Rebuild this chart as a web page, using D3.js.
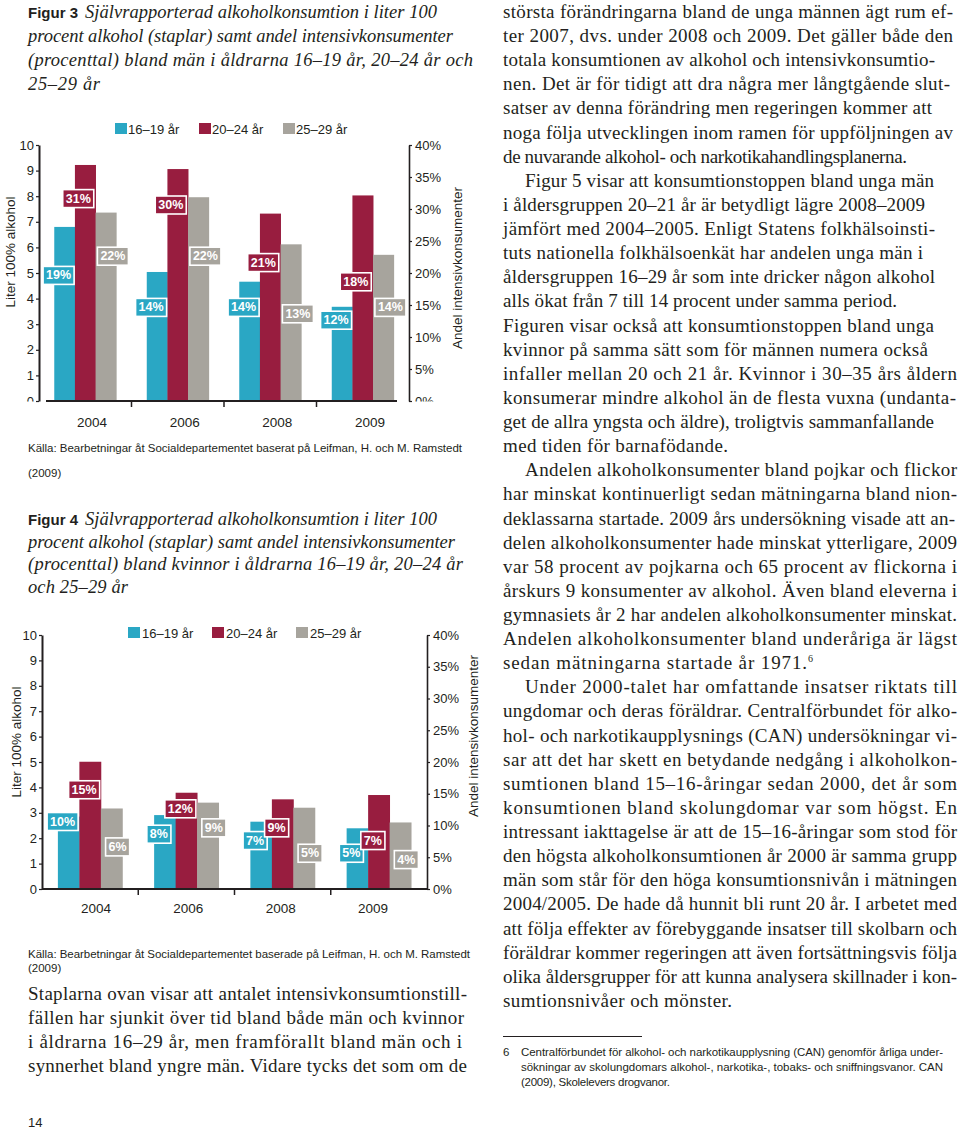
<!DOCTYPE html>
<html><head><meta charset="utf-8">
<script src="https://cdn.jsdelivr.net/npm/d3@7"></script>
<style>
html,body{margin:0;padding:0;background:#fff;}
svg{display:block;}
</style></head><body>
<svg id="page" width="960" height="1131"></svg>
<script>
// ---------------- DATA ----------------
const years = ["2004", "2006", "2008", "2009"];
const seriesNames = ["16–19 år", "20–24 år", "25–29 år"];
const seriesColors = ["#2aa7c4", "#981d3f", "#a7a49d"];
const literTicks = [0,1,2,3,4,5,6,7,8,9,10];
const pctTicks = [0,0.05,0.10,0.15,0.20,0.25,0.30,0.35,0.40];

// Figur 3 – män (liter 100% alkohol)
const menLiters1619 = [6.80, 5.04, 4.66, 3.68];
const menLiters2024 = [9.22, 9.06, 7.32, 8.03];
const menLiters2529 = [7.36, 7.96, 6.12, 5.71];
// Figur 3 – andel intensivkonsumenter (%)
const menPct1619 = [19, 14, 14, 12];
const menPct2024 = [31, 30, 21, 18];
const menPct2529 = [22, 22, 13, 14];

// Figur 4 – kvinnor
const womenLiters1619 = [2.85, 2.91, 2.65, 2.39];
const womenLiters2024 = [5.01, 3.79, 3.53, 3.70];
const womenLiters2529 = [3.17, 3.40, 3.20, 2.62];
const womenPct1619 = [10, 8, 7, 5];
const womenPct2024 = [15, 12, 9, 7];
const womenPct2529 = [6, 9, 5, 4];

// ---------------- TEXT ----------------
const fig3Caption = ["Självrapporterad alkoholkonsumtion i liter 100",
  "procent alkohol (staplar) samt andel intensivkonsumenter",
  "(procenttal) bland män i åldrarna 16–19 år, 20–24 år och",
  "25–29 år"];
const fig4Caption = ["Självrapporterad alkoholkonsumtion i liter 100",
  "procent alkohol (staplar) samt andel intensivkonsumenter",
  "(procenttal) bland kvinnor i åldrarna 16–19 år, 20–24 år",
  "och 25–29 år"];
const source3 = ["Källa: Bearbetningar åt Socialdepartementet baserat på Leifman, H. och M. Ramstedt", "(2009)"];
const source4 = ["Källa: Bearbetningar åt Socialdepartementet baserade på Leifman, H. och M. Ramstedt", "(2009)"];
const leftBody = ["Staplarna ovan visar att antalet intensivkonsumtionstill-",
  "fällen har sjunkit över tid bland både män och kvinnor",
  "i åldrarna 16–29 år, men framförallt bland män och i",
  "synnerhet bland yngre män. Vidare tycks det som om de"];
const rightBody = [
  "största förändringarna bland de unga männen ägt rum ef-",
  "ter 2007, dvs. under 2008 och 2009. Det gäller både den",
  "totala konsumtionen av alkohol och intensivkonsumtio-",
  "nen. Det är för tidigt att dra några mer långtgående slut-",
  "satser av denna förändring men regeringen kommer att",
  "noga följa utvecklingen inom ramen för uppföljningen av",
  "de nuvarande alkohol- och narkotikahandlingsplanerna.",
  "Figur 5 visar att konsumtionstoppen bland unga män",
  "i åldersgruppen 20–21 år är betydligt lägre 2008–2009",
  "jämfört med 2004–2005. Enligt Statens folkhälsoinsti-",
  "tuts nationella folkhälsoenkät har andelen unga män i",
  "åldersgruppen 16–29 år som inte dricker någon alkohol",
  "alls ökat från 7 till 14 procent under samma period.",
  "Figuren visar också att konsumtionstoppen bland unga",
  "kvinnor på samma sätt som för männen numera också",
  "infaller mellan 20 och 21 år. Kvinnor i 30–35 års åldern",
  "konsumerar mindre alkohol än de flesta vuxna (undanta-",
  "get de allra yngsta och äldre), troligtvis sammanfallande",
  "med tiden för barnafödande.",
  "Andelen alkoholkonsumenter bland pojkar och flickor",
  "har minskat kontinuerligt sedan mätningarna bland nion-",
  "deklassarna startade. 2009 års undersökning visade att an-",
  "delen alkoholkonsumenter hade minskat ytterligare, 2009",
  "var 58 procent av pojkarna och 65 procent av flickorna i",
  "årskurs 9 konsumenter av alkohol. Även bland eleverna i",
  "gymnasiets år 2 har andelen alkoholkonsumenter minskat.",
  "Andelen alkoholkonsumenter bland underåriga är lägst",
  "sedan mätningarna startade år 1971.",
  "Under 2000-talet har omfattande insatser riktats till",
  "ungdomar och deras föräldrar. Centralförbundet för alko-",
  "hol- och narkotikaupplysnings (CAN) undersökningar vi-",
  "sar att det har skett en betydande nedgång i alkoholkon-",
  "sumtionen bland 15–16-åringar sedan 2000, det år som",
  "konsumtionen bland skolungdomar var som högst. En",
  "intressant iakttagelse är att de 15–16-åringar som stod för",
  "den högsta alkoholkonsumtionen år 2000 är samma grupp",
  "män som står för den höga konsumtionsnivån i mätningen",
  "2004/2005. De hade då hunnit bli runt 20 år. I arbetet med",
  "att följa effekter av förebyggande insatser till skolbarn och",
  "föräldrar kommer regeringen att även fortsättningsvis följa",
  "olika åldersgrupper för att kunna analysera skillnader i kon-",
  "sumtionsnivåer och mönster."];
const footnote = ["Centralförbundet för alkohol- och narkotikaupplysning (CAN) genomför årliga under-",
  "sökningar av skolungdomars alkohol-, narkotika-, tobaks- och sniffningsvanor. CAN",
  "(2009), Skolelevers drogvanor."];

// ---------------- LAYOUT ----------------
const svg = d3.select("#page");
svg.append("rect").attr("width", 960).attr("height", 1131).attr("fill", "#fff");
const SERIF = "'Liberation Serif', 'Times New Roman', serif";
const SANS = "'Liberation Sans', Arial, sans-serif";
const INK = "#231f20";

const rightEnds = [953,953,935,950,932,953,907,934,925,935,923,935,897,934,928,957,956,934,728,
  957,957,955,957,957,957,957,957,813,957,957,957,957,957,957,957,957,957,957,957,957,957,732];
const indented = new Set([7, 19, 28]);
const leftEnds = [467, 464, 462, 467];

function fitText(sel, x, y, str, end, size, family, style) {
  const t = sel.append("text").attr("x", x).attr("y", y)
    .attr("font-family", family).attr("font-size", size).attr("fill", INK)
    .text(str);
  if (style) t.attr("font-style", style);
  if (end) t.attr("textLength", end - x).attr("lengthAdjust", "spacing");
  return t;
}

// Captions
function caption(top, num, lines, ends, step) {
  const g = svg.append("g");
  g.append("text").attr("x", 28).attr("y", top).attr("font-family", SANS)
    .attr("font-weight", "bold").attr("font-size", 15.5).attr("fill", INK)
    .attr("textLength", 50).attr("lengthAdjust", "spacingAndGlyphs").text("Figur " + num);
  lines.forEach((l, i) => {
    const x = i === 0 ? 85 : 28;
    fitText(g, x, top + i * step, l, ends[i], 18.5, SERIF, "italic");
  });
}
caption(17.5, 3, fig3Caption, [437, 453, 473, 100], 24.2);
caption(525, 4, fig4Caption, [437, 455, 463, 128], 22.6);

// Right column body
const rb = svg.append("g");
rightBody.forEach((l, i) => {
  const x = indented.has(i) ? 525 : 503;
  const y = 18 + i * 24.12;
  const t = fitText(rb, x, y, l, null, 19, SERIF);
  if (i === 27) {
    t.append("tspan").attr("font-size", 10).attr("dy", -7).text("6");
  }
  t.attr("textLength", rightEnds[i] - x).attr("lengthAdjust", "spacing");
});
// Left column body
leftBody.forEach((l, i) => fitText(svg, 28, 1000 + i * 24, l, leftEnds[i], 19, SERIF));

// Page number
svg.append("text").attr("x", 28).attr("y", 1127).attr("font-family", SANS).attr("font-size", 13)
  .attr("fill", INK).text("14");

// Footnote
svg.append("line").attr("x1", 503).attr("x2", 642).attr("y1", 1036.5).attr("y2", 1036.5)
  .attr("stroke", INK).attr("stroke-width", 1);
svg.append("text").attr("x", 503).attr("y", 1056).attr("font-family", SANS).attr("font-size", 11.5)
  .attr("fill", INK).text("6");
const fnEnds = [943, 943, 670];
footnote.forEach((l, i) => fitText(svg, 521, 1056 + i * 15, l, fnEnds[i], 11.5, SANS));

// Sources
function source(lines, y0, step, end) {
  fitText(svg, 28, y0, lines[0], end, 11.5, SANS);
  fitText(svg, 28, y0 + step, lines[1], null, 11.5, SANS);
}
source(source3, 452, 25, 462);
source(source4, 958, 14, 470);

// clip that keeps only the part above a tick's centre (used for the cut-off zero labels)
svg.append("clipPath").attr("id", "zeroClip").append("rect")
  .attr("x", -200).attr("y", -2000).attr("width", 400).attr("height", 2000);

// ---------------- CHARTS ----------------
function drawChart(c) {
  const g = svg.append("g");
  const y = d3.scaleLinear().domain([0, 10]).range([c.bottom, c.top]);
  const yR = d3.scaleLinear().domain([0, 0.40]).range([c.bottom, c.top]);
  const x0 = d3.scaleBand().domain(years).range([c.left, c.right]).paddingInner(0.33).paddingOuter(0.165);
  const x1 = d3.scaleBand().domain(seriesNames).range([0, x0.bandwidth()]);
  const color = d3.scaleOrdinal().domain(seriesNames).range(seriesColors);

  const rows = [];
  years.forEach((yr, i) => seriesNames.forEach((s, j) => rows.push({
    year: yr, series: s, j, liters: c.liters[j][i], pct: c.pct[j][i] / 100
  })));

  // bars
  g.append("g").selectAll("rect").data(rows).join("rect")
    .attr("x", d => x0(d.year) + x1(d.series))
    .attr("width", x1.bandwidth() + 0.4)
    .attr("y", d => y(d.liters))
    .attr("height", d => y(0) - y(d.liters))
    .attr("fill", d => color(d.series));

  // left axis
  const la = g.append("g").attr("transform", `translate(${c.left},0)`)
    .call(d3.axisLeft(y).tickValues(literTicks).tickSize(3).tickPadding(2).tickSizeOuter(0));
  la.select(".domain").attr("stroke", INK).attr("stroke-width", 2);
  la.selectAll(".tick line").attr("stroke", INK).attr("stroke-width", 1.2);
  la.selectAll(".tick text").attr("font-family", SANS).attr("font-size", 13).attr("fill", INK);

  // right axis
  const ra = g.append("g").attr("transform", `translate(${c.right},0)`)
    .call(d3.axisRight(yR).tickValues(pctTicks).tickFormat(d3.format(".0%")).tickSize(3).tickPadding(3).tickSizeOuter(0));
  ra.select(".domain").attr("stroke", INK).attr("stroke-width", 1.6);
  ra.selectAll(".tick line").attr("stroke", INK).attr("stroke-width", 1.2);
  ra.selectAll(".tick text").attr("font-family", SANS).attr("font-size", 13).attr("fill", INK);

  if (c.clipZero) {
    [la, ra].forEach(a => a.selectAll(".tick").filter(d => d === 0).select("text")
      .attr("clip-path", "url(#zeroClip)"));
  }

  // x axis line
  g.append("line").attr("x1", c.xAxisStart).attr("x2", c.xAxisEnd)
    .attr("y1", c.bottom).attr("y2", c.bottom).attr("stroke", INK).attr("stroke-width", 2);
  const pad = x0.step() * 0.165;
  g.append("g").selectAll("line").data(years.slice(1)).join("line")
    .attr("x1", d => x0(d) - pad).attr("x2", d => x0(d) - pad)
    .attr("y1", c.bottom).attr("y2", c.bottom + 6).attr("stroke", INK).attr("stroke-width", 1.5);
  const xl = d3.scalePoint().domain(years).range(c.yearRange);
  g.append("g").selectAll("text").data(years).join("text")
    .attr("x", d => xl(d)).attr("y", c.bottom + c.yearDy).attr("text-anchor", "middle")
    .attr("font-family", SANS).attr("font-size", 13.5).attr("fill", INK).text(d => d);

  // axis titles
  g.append("text").attr("transform", `translate(${c.leftTitle[0]},${c.leftTitle[1]}) rotate(-90)`)
    .attr("text-anchor", "middle").attr("dominant-baseline", "central")
    .attr("font-family", SANS).attr("font-size", 13.5).attr("fill", INK).text("Liter 100% alkohol");
  g.append("text").attr("transform", `translate(${c.rightTitle[0]},${c.rightTitle[1]}) rotate(-90)`)
    .attr("text-anchor", "middle").attr("dominant-baseline", "central")
    .attr("font-family", SANS).attr("font-size", 13.5).attr("fill", INK).text("Andel intensivkonsumenter");

  // legend
  const lg = g.append("g").attr("transform", `translate(${c.legend[0]},${c.legend[1]})`);
  seriesNames.forEach((s, j) => {
    lg.append("rect").attr("x", j * 84).attr("y", 0).attr("width", 12).attr("height", 11).attr("fill", color(s));
    lg.append("text").attr("x", j * 84 + c.legendGap).attr("y", 10.5)
      .attr("font-family", SANS).attr("font-size", 13).attr("fill", INK).text(s);
  });

  // percent labels
  const lab = g.append("g");
  rows.forEach(d => {
    const cx = x0(d.year) + x1(d.series) + x1.bandwidth() / 2 + c.labelDx[d.j];
    const cy = yR(d.pct) - 4;
    const lg2 = lab.append("g");
    const r = lg2.append("rect").attr("fill", color(d.series)).attr("stroke", "#fff").attr("stroke-width", 1.6);
    const t = lg2.append("text").attr("x", cx).attr("y", cy).attr("text-anchor", "middle")
      .attr("dominant-baseline", "central").attr("font-family", SANS).attr("font-weight", "bold")
      .attr("font-size", 12.5).attr("fill", "#fff").text(d3.format(".0%")(d.pct));
    const w = t.node().getComputedTextLength() + 6;
    r.attr("x", cx - w / 2).attr("y", cy - 9).attr("width", w).attr("height", 18);
  });
}

drawChart({
  top: 145, bottom: 401, left: 39, right: 409,
  liters: [menLiters1619, menLiters2024, menLiters2529],
  pct: [menPct1619, menPct2024, menPct2529],
  clipZero: true,
  xAxisStart: 46, xAxisEnd: 397, yearRange: [92, 370], yearDy: 26,
  leftTitle: [10, 252], rightTitle: [457, 268],
  legend: [115, 123], legendGap: 13, labelDx: [-6, -7, 7]
});
drawChart({
  top: 635, bottom: 889, left: 42, right: 427,
  liters: [womenLiters1619, womenLiters2024, womenLiters2529],
  pct: [womenPct1619, womenPct2024, womenPct2529],
  clipZero: false,
  xAxisStart: 42, xAxisEnd: 427, yearRange: [96, 373], yearDy: 24,
  leftTitle: [16, 742], rightTitle: [473, 736],
  legend: [128, 627], legendGap: 14, labelDx: [-6, -6, 6]
});
</script>
</body></html>
